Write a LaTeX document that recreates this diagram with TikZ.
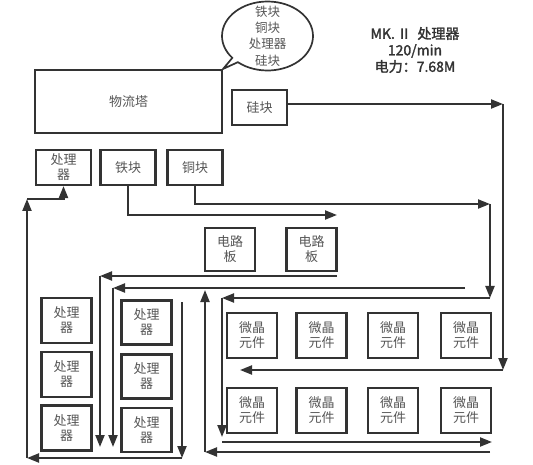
\documentclass[tikz,border=0pt]{standalone}
\usepackage{fontspec}
\newfontfamily\cjk[AutoFakeBold=2]{Noto Sans CJK SC}
\usetikzlibrary{arrows.meta,shapes.callouts,calc}
\definecolor{linec}{HTML}{333333}
\definecolor{textc}{HTML}{555555}
\begin{document}
\begin{tikzpicture}[x=1pt,y=-1pt,
  box/.style={draw=linec,line width=2.1pt,inner sep=0pt,align=center,text=textc,
    font=\cjk\fontsize{13}{15}\selectfont},
  sbox/.style={box,minimum width=55pt,minimum height=35pt},
  pbox/.style={box,minimum width=50pt,minimum height=44pt},
  flow/.style={draw=linec,line width=2.1pt,-{Triangle[length=12pt,width=9pt]}},
]
\useasboundingbox (0,0) rectangle (533,465);

% top
\node[box,minimum width=187pt,minimum height=63pt] (tower) at (128.5,101.5) {物流塔};
\node[ellipse callout,draw=linec,line width=1.7pt,minimum width=91pt,minimum height=69pt,
  inner sep=0pt,callout pointer arc=10,callout absolute pointer={(tower.north east)}] (bubble) at (267.5,36) {};
\node[align=center,text=textc,font=\cjk\fontsize{12.5}{16.3}\selectfont] (bubbletxt)
  at (bubble.center) {铁块\\铜块\\处理器\\硅块};
\node[align=center,text=linec,font=\cjk\bfseries\fontsize{14}{16.5}\selectfont] (mk)
  at (415,50) {MK.\,Ⅱ\ \ 处理器\\120/min\\电力：7.68M};

\node[sbox] (si) at (259.5,107.5) {硅块};
\node[sbox] (cpu0) at (63.5,167.5) {处理\\器};
\node[sbox] (fe) at (128,167.5) {铁块};
\node[sbox] (cu) at (195,167.5) {铜块};

\node[box,minimum width=50pt,minimum height=43pt] (pcb1) at (230,249.5) {电路\\板};
\node[box,minimum width=50pt,minimum height=43pt] (pcb2) at (311.5,249.5) {电路\\板};

% processors
\node[pbox,minimum height=45pt] (pa1) at (66.5,320.5) {处理\\器};
\node[pbox,minimum height=45pt] (pa2) at (66.5,374.5) {处理\\器};
\node[pbox,minimum height=45pt] (pa3) at (66.5,428) {处理\\器};
\node[pbox] (pb1) at (146.5,322.5) {处理\\器};
\node[pbox] (pb2) at (146.5,376.5) {处理\\器};
\node[pbox] (pb3) at (146.5,430) {处理\\器};

% micro components
\node[pbox,minimum height=45pt] (m11) at (252,335.5) {微晶\\元件};
\node[pbox,minimum height=45pt] (m12) at (321.5,335.5) {微晶\\元件};
\node[pbox,minimum height=45pt] (m13) at (393,335.5) {微晶\\元件};
\node[pbox,minimum height=45pt] (m14) at (466,335.5) {微晶\\元件};
\node[pbox,minimum height=45pt] (m21) at (252,410.5) {微晶\\元件};
\node[pbox,minimum height=45pt] (m22) at (321.5,410.5) {微晶\\元件};
\node[pbox,minimum height=45pt] (m23) at (393,410.5) {微晶\\元件};
\node[pbox,minimum height=45pt] (m24) at (466,410.5) {微晶\\元件};

% silicon belt
\coordinate (siR) at (503,104);
\coordinate (siD) at (503,370);
\coordinate (siL) at (240,370);
\draw[flow] (si.east |- siR) -- (siR);
\draw[flow] (siR) -- (siD);
\draw[flow] (siD) -- (siL);

% iron belt
\coordinate (feE) at (337,215);
\draw[flow] (fe.south) |- (feE);

% copper belt
\coordinate (cuR) at (490,204);
\coordinate (cuD) at (490,298);
\coordinate (cuL) at (222,298);
\coordinate (cuB) at (222,437);
\draw[flow] (cu.south) |- (cuR);
\draw[flow] (cuR) -- (cuD);
\draw[flow] (cuD) -- (cuL);
\draw[flow] (cuL) -- (cuB);

% circuit board output
\coordinate (pcbR) at (337,276);
\coordinate (pcbL) at (100,276);
\coordinate (pcbB) at (100,447);
\draw[flow] (pcbR) -- (pcbL);
\draw[flow] (pcbL) -- (pcbB);

% second belt to processors
\coordinate (b2R) at (465,288);
\coordinate (b2L) at (113,288);
\coordinate (b2B) at (113,447);
\draw[flow] (b2R) -- (b2L);
\draw[flow] (b2L) -- (b2B);

% micro component belts
\coordinate (mcL) at (222,442);
\coordinate (mcR) at (492,442);
\draw[flow] (mcL) -- (mcR);
\coordinate (moR) at (490,452);
\coordinate (moL) at (205,452);
\coordinate (moT) at (205,290);
\draw[flow] (moR) -- (moL);
\draw[flow] (moL) -- (moT);

% processor output
\coordinate (poT) at (182,302);
\coordinate (poB) at (182,458);
\coordinate (poL) at (27,458);
\coordinate (poU) at (27,199);
\draw[flow] (poT) -- (poB);
\draw[flow] (poB) -- (poL);
\draw[flow] (poL) -- (poU);
\draw[flow] (poU) -| (cpu0.south);
\end{tikzpicture}
\end{document}
